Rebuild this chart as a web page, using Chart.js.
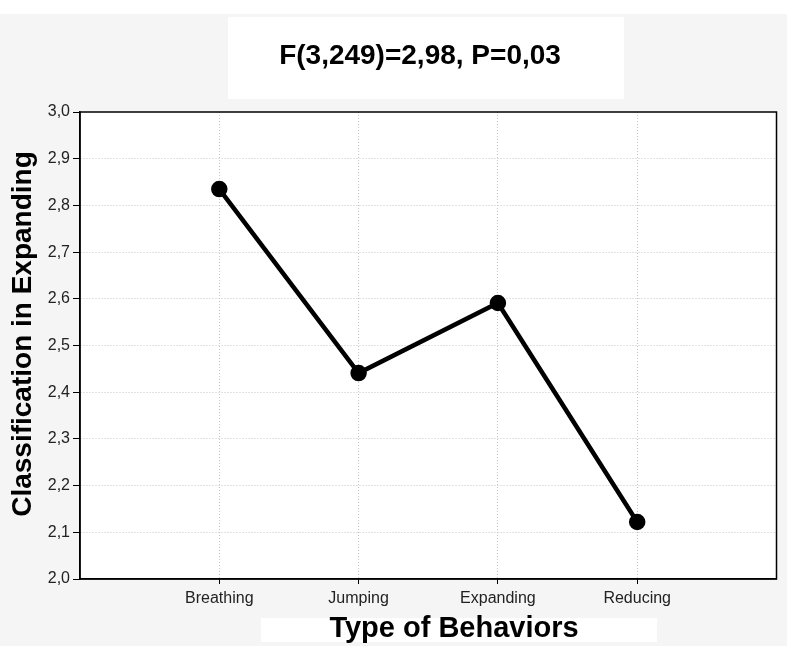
<!DOCTYPE html>
<html>
<head>
<meta charset="utf-8">
<script src="https://cdn.jsdelivr.net/npm/chart.js@4"></script>
<style>
  html, body { margin: 0; padding: 0; background: #f5f5f5; }
  #wrap { width: 787px; height: 646px; }
</style>
</head>
<body>
<div id="wrap"><canvas id="grafico" width="787" height="646"></canvas></div>
<script>
const categorias = ['Breathing', 'Jumping', 'Expanding', 'Reducing'];
const valores = [2.835, 2.441, 2.591, 2.122];
const etiquetasY = ['2,0', '2,1', '2,2', '2,3', '2,4', '2,5', '2,6', '2,7', '2,8', '2,9', '3,0'];
const titulo = 'F(3,249)=2,98, P=0,03';
const tituloX = 'Type of Behaviors';
const tituloY = 'Classification in Expanding';

const fuente = '"Liberation Sans", Arial, sans-serif';

// fondo gris, cajas blancas, marco y titulos
const decoracion = {
    id: 'decoracion',
    beforeDraw(chart) {
        const ctx = chart.ctx;
        const a = chart.chartArea;
        ctx.save();
        ctx.fillStyle = '#f5f5f5';
        ctx.fillRect(0, 0, chart.width, chart.height);
        ctx.fillStyle = '#ffffff';
        ctx.fillRect(0, 0, chart.width, 14);
        ctx.fillRect(228, 17, 396, 82);
        ctx.fillRect(261, 618, 396, 24);
        ctx.fillRect(a.left, a.top, a.right - a.left, a.bottom - a.top);
        ctx.restore();
    },
    afterDraw(chart) {
        const ctx = chart.ctx;
        const a = chart.chartArea;
        ctx.save();
        ctx.strokeStyle = '#000';
        ctx.lineWidth = 1.5;
        ctx.strokeRect(a.left, a.top, a.right - a.left, a.bottom - a.top);

        ctx.fillStyle = '#000';
        ctx.textAlign = 'center';
        ctx.textBaseline = 'middle';
        ctx.font = 'bold 28px ' + fuente;
        ctx.fillText(titulo, 420, 56);
        ctx.font = 'bold 29px ' + fuente;
        ctx.fillText(tituloX, 454, 629);
        ctx.font = 'bold 28px ' + fuente;
        ctx.translate(23, 334);
        ctx.rotate(-Math.PI / 2);
        ctx.fillText(tituloY, 0, 0);
        ctx.restore();
    }
};

const puntos = valores.map((v, i) => ({ x: i, y: v }));

new Chart(document.getElementById('grafico').getContext('2d'), {
    type: 'line',
    data: {
        datasets: [{
            data: puntos,
            borderColor: '#000',
            backgroundColor: '#000',
            borderWidth: 4.5,
            pointRadius: 6,
            pointHoverRadius: 6,
            tension: 0
        }]
    },
    options: {
        responsive: false,
        animation: false,
        layout: { padding: { top: 112, right: 2, bottom: 0, left: 0 } },
        plugins: { legend: { display: false }, tooltip: { enabled: false } },
        scales: {
            x: {
                type: 'linear',
                min: -1,
                max: 4,
                afterFit: (s) => { s.height = 67; },
                afterBuildTicks: (s) => { s.ticks = [-1, 0, 1, 2, 3, 4].map(v => ({ value: v })); },
                ticks: {
                    padding: 5,
                    color: '#222',
                    font: { family: fuente, size: 16 },
                    callback: (v) => categorias[v] ?? ''
                },
                grid: {
                    color: (c) => (c.tick && c.tick.value >= 0 && c.tick.value <= 3) ? '#c4c4c4' : 'rgba(0,0,0,0)',
                    tickColor: (c) => (c.tick && c.tick.value >= 0 && c.tick.value <= 3) ? '#000' : 'rgba(0,0,0,0)',
                    tickLength: 5,
                    lineWidth: 1
                },
                border: { display: true, color: '#000', width: 1.5, dash: [1, 2] }
            },
            y: {
                min: 2.0,
                max: 3.0,
                afterFit: (s) => { s.width = 80; },
                ticks: {
                    stepSize: 0.1,
                    padding: 3,
                    color: '#222',
                    font: { family: fuente, size: 16 },
                    callback: (v, i) => etiquetasY[i]
                },
                grid: {
                    color: (c) => (c.tick && c.tick.value > 2.01 && c.tick.value < 2.99) ? '#c4c4c4' : 'rgba(0,0,0,0)',
                    tickColor: '#000',
                    tickLength: 7,
                    lineWidth: 1
                },
                border: { display: true, color: '#000', width: 1.5, dash: [1, 2] }
            }
        }
    },
    plugins: [decoracion]
});
</script>
</body>
</html>
